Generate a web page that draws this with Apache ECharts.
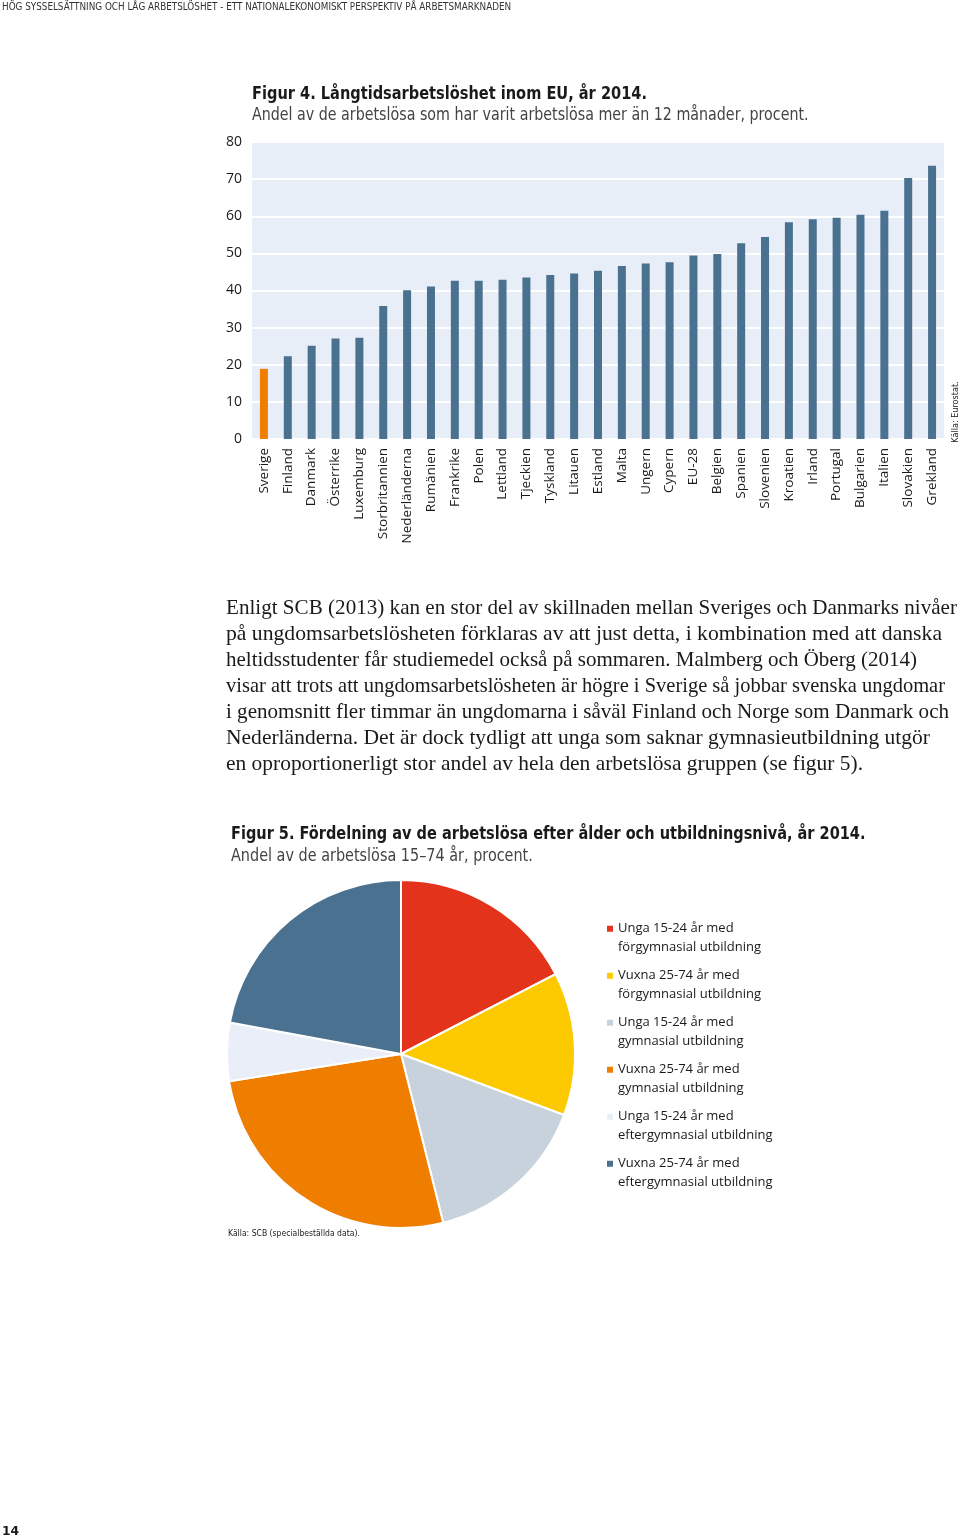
<!DOCTYPE html>
<html><head><meta charset="utf-8">
<script src="https://cdn.jsdelivr.net/npm/echarts@6/dist/echarts.min.js"></script>
<style>html,body{margin:0;padding:0;background:#fff;}#c{width:960px;height:1539px;}</style>
</head><body><div id="c"></div>
<script>
// ---- Figur 4 data ----
const countries = ['Sverige','Finland','Danmark','Österrike','Luxemburg','Storbritannien','Nederländerna','Rumänien','Frankrike','Polen','Lettland','Tjeckien','Tyskland','Litauen','Estland','Malta','Ungern','Cypern','EU-28','Belgien','Spanien','Slovenien','Kroatien','Irland','Portugal','Bulgarien','Italien','Slovakien','Grekland'];
const longTermShare = [18.9,22.3,25.1,27.1,27.3,35.8,40.1,41.1,42.6,42.6,42.9,43.5,44.2,44.6,45.3,46.6,47.3,47.6,49.4,49.8,52.7,54.4,58.4,59.2,59.6,60.4,61.5,70.3,73.6];
const yAxisMin = 0, yAxisMax = 80, yAxisStep = 10;
// ---- Figur 5 data ----
const groups = ['Unga 15-24 år med förgymnasial utbildning','Vuxna 25-74 år med förgymnasial utbildning','Unga 15-24 år med gymnasial utbildning','Vuxna 25-74 år med gymnasial utbildning','Unga 15-24 år med eftergymnasial utbildning','Vuxna 25-74 år med eftergymnasial utbildning'];
const groupShare = [17.4,13.3,15.4,26.4,5.4,22.1];
// ---- texts ----
const headerText = 'HÖG SYSSELSÄTTNING OCH LÅG ARBETSLÖSHET - ETT NATIONALEKONOMISKT PERSPEKTIV PÅ ARBETSMARKNADEN';
const fig4Title = 'Figur 4. Långtidsarbetslöshet inom EU, år 2014.';
const fig4Sub = 'Andel av de arbetslösa som har varit arbetslösa mer än 12 månader, procent.';
const fig5Title = 'Figur 5. Fördelning av de arbetslösa efter ålder och utbildningsnivå, år 2014.';
const fig5Sub = 'Andel av de arbetslösa 15–74 år, procent.';
const paragraphLines = [
 'Enligt SCB (2013) kan en stor del av skillnaden mellan Sveriges och Danmarks nivåer',
 'på ungdomsarbetslösheten förklaras av att just detta, i kombination med att danska',
 'heltidsstudenter får studiemedel också på sommaren. Malmberg och Öberg (2014)',
 'visar att trots att ungdomsarbetslösheten är högre i Sverige så jobbar svenska ungdomar',
 'i genomsnitt fler timmar än ungdomarna i såväl Finland och Norge som Danmark och',
 'Nederländerna. Det är dock tydligt att unga som saknar gymnasieutbildning utgör',
 'en oproportionerligt stor andel av hela den arbetslösa gruppen (se figur 5).'
];
// right edge of each typeset line in the page (layout, not data)
const paragraphRight = [957, 942, 917, 945, 949, 930, 863];

const NARROW = "'Liberation Sans Narrow','DejaVu Sans Condensed',sans-serif";
const SANS = "'Open Sans','Noto Sans',sans-serif";
const SERIF = "'Liberation Serif','DejaVu Serif',serif";
const DARK = '#1a1a1a';
const BLUE = '#4a7190';
const ORANGE = '#ef7d00';
const pieColors = ['#e3331a','#fdc900','#c8d2dd','#ef7d00','#e9eef8','#4a7190'];

function txt(text, x, y, size, family, weight, fill, sx) {
  return {type:'text', x:x, y:y, scaleX:sx||1, silent:true,
    style:{text:text, fontSize:size, fontFamily:family, fontWeight:weight||'normal', fill:fill||DARK, verticalAlign:'middle', align:'left'}};
}
const graphics = [
  txt(headerText, 2, 7, 10, NARROW, 'normal', '#333', 0.98),
  txt(fig4Title, 252, 94, 18, NARROW, 'bold', DARK, 0.9),
  txt(fig4Sub, 252, 115, 18, NARROW, 'normal', '#444', 0.88),
  {type:'text', x:956, y:412, rotation:Math.PI/2, silent:true, style:{text:'Källa: Eurostat.', fontSize:9, fontFamily:NARROW, fill:DARK, align:'center', verticalAlign:'middle'}},
  txt(fig5Title, 231, 834, 18, NARROW, 'bold', DARK, 0.897),
  txt(fig5Sub, 231, 856.5, 18, NARROW, 'normal', '#444', 0.89),
  txt('Källa: SCB (specialbeställda data).', 228, 1234, 9, NARROW, 'normal', DARK, 0.95),
  txt('14', 2, 1532, 13, NARROW, 'bold', DARK, 1.05)
];
const PFS = 21;
const mctx = document.createElement('canvas').getContext('2d');
mctx.font = PFS + 'px ' + SERIF;
paragraphLines.forEach(function(line, i){
  const w = mctx.measureText(line).width;
  const sx = w > 0 ? (paragraphRight[i] - 226) / w : 1;
  graphics.push(txt(line, 226, 608 + 26*i, PFS, SERIF, 'normal', DARK, sx));
});

const chart = echarts.init(document.getElementById('c'), null, {renderer:'canvas'});
chart.setOption({
  animation:false,
  backgroundColor:'#fff',
  grid:[{left:252, top:142, width:692, height:297, show:true, backgroundColor:'#e8eef8', borderWidth:0, containLabel:false}],
  xAxis:[{type:'category', gridIndex:0, data:countries,
    axisLine:{show:false}, axisTick:{show:false},
    axisLabel:{interval:0, rotate:90, margin:9, fontSize:13.5, fontFamily:SANS, color:DARK}}],
  yAxis:[{type:'value', gridIndex:0, min:yAxisMin, max:yAxisMax, interval:yAxisStep,
    axisLine:{show:false}, axisTick:{show:false},
    splitLine:{show:true, lineStyle:{color:'#ffffff', width:2}},
    axisLabel:{margin:10, fontSize:14, fontFamily:SANS, color:DARK}}],
  legend:{orient:'vertical', left:607, top:919.5, padding:0, itemGap:10, itemWidth:6, itemHeight:37,
    icon:'path://M0,0L0,37Z M0,6.25H6V12.25H0Z',
    itemStyle:{borderWidth:0},
    selectedMode:false, data:groups,
    formatter:function(n){return n.replace(' med ', ' med\n');},
    textStyle:{fontSize:13, lineHeight:18.5, fontFamily:SANS, color:DARK}},
  series:[
    {type:'bar', xAxisIndex:0, yAxisIndex:0, data:longTermShare, barWidth:8, silent:true,
     itemStyle:{color:function(p){return countries[p.dataIndex]==='Sverige'?ORANGE:BLUE;}}},
    {type:'pie', center:[401,1054], radius:174, startAngle:90, clockwise:true, silent:true,
     label:{show:false}, labelLine:{show:false},
     itemStyle:{borderColor:'#fff', borderWidth:2},
     data:groups.map(function(g,i){return {name:g, value:groupShare[i], itemStyle:{color:pieColors[i]}};})}
  ],
  graphic:graphics
});
</script></body></html>
